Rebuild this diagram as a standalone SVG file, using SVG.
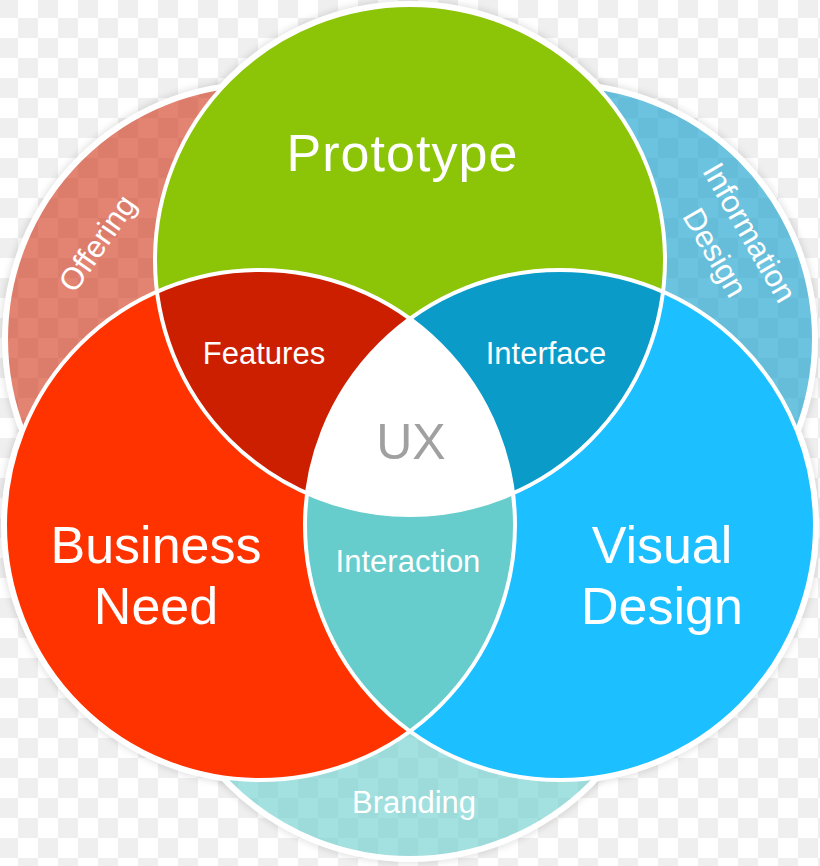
<svg xmlns="http://www.w3.org/2000/svg" width="820" height="866" viewBox="0 0 820 866">
  <defs>
    <pattern id="checker" x="18" y="18" width="40" height="40" patternUnits="userSpaceOnUse">
      <rect width="40" height="40" fill="#ffffff"/>
      <rect width="20" height="20" fill="#efefef"/>
      <rect x="20" y="20" width="20" height="20" fill="#efefef"/>
    </pattern>
    <circle id="cG" cx="410" cy="260" r="255"/>
    <circle id="cR" cx="260" cy="525" r="255"/>
    <circle id="cB" cx="560" cy="525" r="255"/>
    <clipPath id="clipG"><use href="#cG"/></clipPath>
    <clipPath id="clipR"><use href="#cR"/></clipPath>
    <clipPath id="clipB"><use href="#cB"/></clipPath>
    <mask id="outside" maskUnits="userSpaceOnUse" x="0" y="0" width="820" height="866">
      <rect width="820" height="866" fill="#fff"/>
      <g fill="#000">
        <circle cx="260" cy="339" r="254"/>
        <circle cx="560" cy="339" r="254"/>
        <circle cx="410" cy="603" r="255"/>
        <use href="#cG"/>
        <use href="#cR"/>
        <use href="#cB"/>
      </g>
    </mask>
    <filter id="blur" x="-10%" y="-10%" width="120%" height="120%">
      <feGaussianBlur stdDeviation="3"/>
    </filter>
  </defs>
  <style>
    .lbl { font-family: "Liberation Sans", Arial, Helvetica, sans-serif; fill: #ffffff; text-anchor: middle; }
    .big { font-size: 52px; }
    .small { font-size: 31px; }
    .ux { font-family: "Liberation Sans", Arial, Helvetica, sans-serif; font-size: 50px; fill: #a0a0a0; text-anchor: middle; }
    .outline { fill: none; stroke: #ffffff; stroke-width: 4; }
  </style>

  <!-- background -->
  <rect width="820" height="866" fill="url(#checker)"/>

  <!-- halo and white border around the whole shape -->
  <g id="halo" mask="url(#outside)">
    <g fill="#000" fill-opacity="0.10" filter="url(#blur)">
      <circle cx="260" cy="339" r="260"/>
      <circle cx="560" cy="339" r="260"/>
      <circle cx="410" cy="603" r="261"/>
      <circle cx="410" cy="260" r="261"/>
      <circle cx="260" cy="525" r="261"/>
      <circle cx="560" cy="525" r="261"/>
    </g>
    <g fill="#ffffff">
      <circle cx="260" cy="339" r="258"/>
      <circle cx="560" cy="339" r="258"/>
      <circle cx="410" cy="603" r="259"/>
      <circle cx="410" cy="260" r="259"/>
      <circle cx="260" cy="525" r="259"/>
      <circle cx="560" cy="525" r="259"/>
    </g>
  </g>

  <!-- outer (background) circles -->
  <g id="offering">
    <circle cx="260" cy="339" r="254" fill="#cc1f00" fill-opacity="0.55" stroke="#ffffff" stroke-width="4"/>
    <g transform="translate(97,243) rotate(-55)">
      <text class="lbl small" x="0" y="11">Offering</text>
    </g>
  </g>
  <g id="information-design">
    <circle cx="560" cy="339" r="254" fill="#0a9bc9" fill-opacity="0.6" stroke="#ffffff" stroke-width="4"/>
    <g transform="translate(732.6,242.3) rotate(60)">
      <text class="lbl small" x="0" y="-9">Information</text>
      <text class="lbl small" x="0" y="31">Design</text>
    </g>
  </g>
  <g id="branding">
    <circle cx="410" cy="603" r="255" fill="#66cccc" fill-opacity="0.6" stroke="#ffffff" stroke-width="4"/>
    <text class="lbl small" x="414" y="813">Branding</text>
  </g>

  <!-- main circles -->
  <g id="prototype">
    <use href="#cG" fill="#8cc408"/>
    <text class="lbl big" x="402" y="171" textLength="231">Prototype</text>
  </g>
  <g id="business-need">
    <use href="#cR" fill="#ff3300"/>
    <text class="lbl big" x="156" y="563">Business</text>
    <text class="lbl big" x="156" y="624">Need</text>
  </g>
  <g id="visual-design">
    <use href="#cB" fill="#1cbfff"/>
    <text class="lbl big" x="662" y="563">Visual</text>
    <text class="lbl big" x="662" y="624">Design</text>
  </g>

  <!-- intersections -->
  <g id="features">
    <use href="#cR" fill="#cc1f00" clip-path="url(#clipG)"/>
    <text class="lbl small" x="264" y="364">Features</text>
  </g>
  <g id="interface">
    <use href="#cG" fill="#0a9bc9" clip-path="url(#clipB)"/>
    <text class="lbl small" x="546" y="364">Interface</text>
  </g>
  <g id="interaction">
    <use href="#cR" fill="#66cccc" clip-path="url(#clipB)"/>
    <text class="lbl small" x="408" y="572">Interaction</text>
  </g>
  <g id="ux">
    <g clip-path="url(#clipB)">
      <use href="#cG" fill="#ffffff" clip-path="url(#clipR)"/>
    </g>
    <text class="ux" x="411" y="459">UX</text>
  </g>

  <!-- white outlines of the main circles -->
  <g id="outlines" class="outline">
    <use href="#cG"/>
    <use href="#cR"/>
    <use href="#cB"/>
  </g>
</svg>
